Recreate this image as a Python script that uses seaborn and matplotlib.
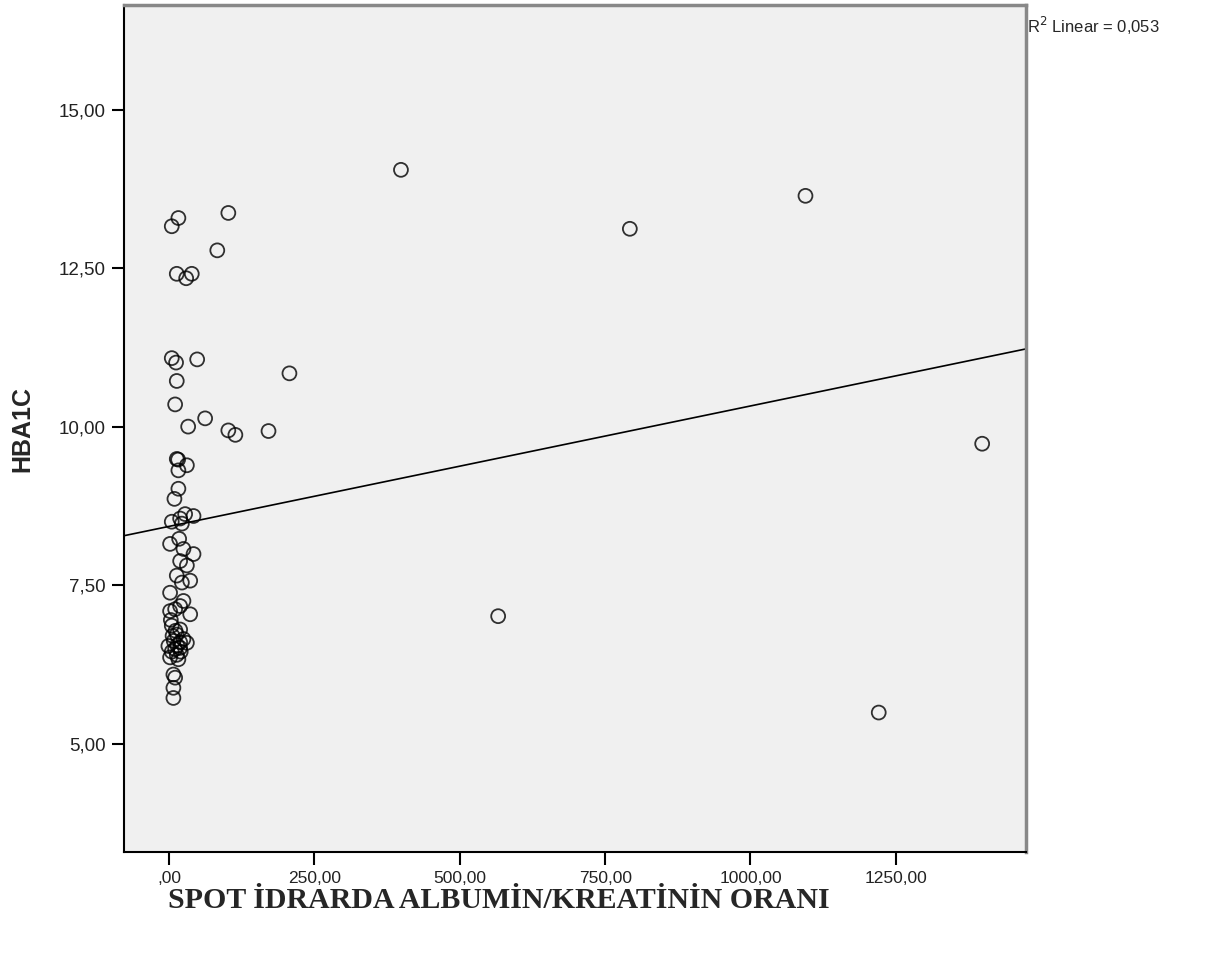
import numpy as np
import pandas as pd
import matplotlib
matplotlib.use('Agg')
from matplotlib import pyplot as plt
import seaborn as sns

# spot urine albumin/creatinine ratio vs HbA1c
albumin_kreatinin = [398.8, 792.5, 1094.6, 101.9, 82.9, 207.0, 62.0, 101.9, 114.0, 171.0,
                     32.8, 48.3, 566.0, 1220.6, 1398.5,
                     16.0, 4.6, 13.2, 39.0, 29.4, 4.6, 12.0, 13.2, 10.4,
                     13.2, 15.5, 30.6, 16.0, 16.0, 9.2,
                     4.6, 19.0, 27.6, 42.0, 22.0,
                     1.7, 17.3, 42.0, 24.7, 19.0, 30.6, 13.2, 36.3, 22.0,
                     1.7, 19.0, 1.7, 36.3, 24.7, 10.4,
                     4.6, 19.0, 24.7, 30.6, -1.2, 10.4, 19.0, 13.2,
                     1.7, 16.0, 7.4, 10.4, 19.0, 7.4, 7.4, 4.6, 13.2,
                     8.0, 14.0, 6.0, 20.0, 11.0, 3.0]
hba1c = [14.05, 13.12, 13.64, 13.37, 12.78, 10.84, 10.13, 9.94, 9.87, 9.93,
         10.00, 11.06, 7.01, 5.49, 9.73,
         13.29, 13.16, 12.41, 12.41, 12.34, 11.08, 11.01, 10.72, 10.35,
         9.49, 9.48, 9.39, 9.31, 9.02, 8.86,
         8.50, 8.55, 8.62, 8.59, 8.47,
         8.15, 8.23, 7.99, 8.07, 7.88, 7.81, 7.65, 7.57, 7.54,
         7.38, 7.17, 7.09, 7.04, 7.25, 7.12,
         6.86, 6.80, 6.65, 6.59, 6.54, 6.49, 6.51, 6.72,
         6.36, 6.33, 6.09, 6.04, 6.60, 5.88, 5.72, 6.45, 6.40,
         6.62, 6.55, 6.70, 6.45, 6.78, 6.95]

x_ticks = [0, 250, 500, 750, 1000, 1250]
x_labels = [',00', '250,00', '500,00', '750,00', '1000,00', '1250,00']
y_ticks = [5, 7.5, 10, 12.5, 15]
y_labels = ['5,00', '7,50', '10,00', '12,50', '15,00']

df = pd.DataFrame({'oran': albumin_kreatinin, 'hba1c': hba1c})

sns.set_style('white')
plt.rcParams['font.family'] = ['Liberation Sans', 'DejaVu Sans']

fig = plt.figure(figsize=(12.16, 9.61), dpi=100)
ax = fig.add_axes([0.102, 0.1134, 0.7418, 0.8814])
ax.set_facecolor('#f0f0f0')
ax.set_xlim(-77.5, 1474)
ax.set_ylim(3.29, 16.65)

sns.regplot(data=df, x='oran', y='hba1c', ax=ax, ci=None, truncate=False,
            scatter_kws=dict(s=100, facecolors='none', edgecolors='black', linewidths=1.3),
            line_kws=dict(color='black', linewidth=1.2))

ax.set_xlim(-77.5, 1474)
ax.set_ylim(3.29, 16.65)
ax.set_xticks(x_ticks, x_labels)
ax.set_yticks(y_ticks, y_labels)
ax.tick_params(axis='both', direction='out', length=9, width=1.5, color='black',
               labelcolor='#222222', left=True, bottom=True, pad=5)
ax.tick_params(axis='x', labelsize=12.5)
ax.tick_params(axis='y', labelsize=13.5, pad=4)

for side in ['left', 'bottom']:
    ax.spines[side].set_color('black')
    ax.spines[side].set_linewidth(1.5)
for side in ['top', 'right']:
    ax.spines[side].set_color('#888888')
    ax.spines[side].set_linewidth(2.5)

ax.set_xlabel('')
ax.set_ylabel('HBA1C', fontsize=18, fontweight='bold', labelpad=18)

fig.text(0.41, 1 - 900 / 961, 'SPOT İDRARDA ALBUMİN/KREATİNİN ORANI', ha='center', va='center',
         fontsize=21.5, fontweight='bold', family=['Liberation Serif', 'DejaVu Serif'])
fig.text(1027 / 1216, 1 - 26 / 961, 'R$^2$ Linear = 0,053', ha='left', va='center', fontsize=12)

fig.savefig('out.png', dpi=100)
